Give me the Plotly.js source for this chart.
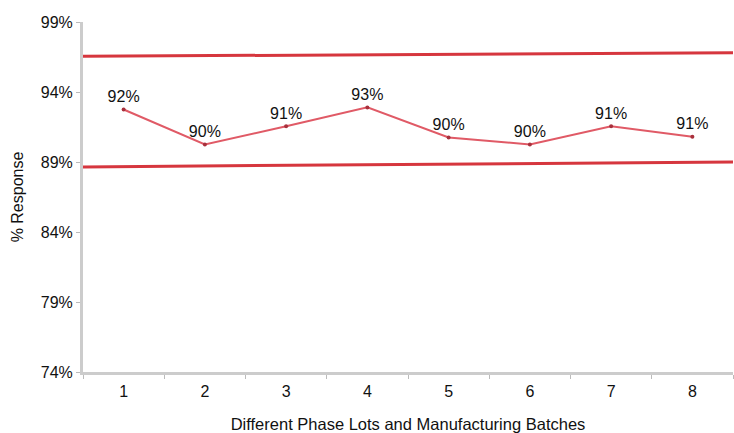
<!DOCTYPE html>
<html>
<head>
<meta charset="utf-8">
<script src="https://cdn.plot.ly/plotly-3.0.1.min.js"></script>
<style>html,body{margin:0;padding:0;background:#fff;}#chart{width:734px;height:433px;}</style>
</head>
<body>
<div id="chart"></div>
<script>
const batches = [1, 2, 3, 4, 5, 6, 7, 8];
const response = [92.75, 90.25, 91.55, 92.9, 90.75, 90.25, 91.55, 90.8];
const responseLabels = ['92%', '90%', '91%', '93%', '90%', '90%', '91%', '91%'];
const limitX = [0.5, 8.5];
const upperLimit = [96.55, 96.8];
const lowerLimit = [88.65, 89.0];
const yTicks = [74, 79, 84, 89, 94, 99];
const yTickLabels = ['74%', '79%', '84%', '89%', '94%', '99%'];

const font = 'Liberation Sans, Arial, Helvetica, sans-serif';
const traces = [
  {x: limitX, y: upperLimit, mode: 'lines', line: {color: '#d6363e', width: 3}, hoverinfo: 'skip'},
  {x: limitX, y: lowerLimit, mode: 'lines', line: {color: '#d6363e', width: 3}, hoverinfo: 'skip'},
  {x: batches, y: response, mode: 'lines+markers+text', text: responseLabels,
   textposition: 'top center', textfont: {family: font, size: 16, color: '#111'},
   line: {color: '#e05a66', width: 2}, marker: {color: '#a8303c', size: 4}, cliponaxis: false}
];
const layout = {
  width: 734, height: 433,
  margin: {l: 83, r: 1, t: 22, b: 61},
  paper_bgcolor: '#fff', plot_bgcolor: '#fff',
  showlegend: false,
  font: {family: font, size: 16, color: '#111'},
  xaxis: {
    range: [0.5, 8.5], tickvals: batches, ticktext: batches.map(String),
    showgrid: false, zeroline: false, showline: true, linecolor: '#cccccc', linewidth: 3,
    ticks: '', tickfont: {size: 16}, ticklabelstandoff: 3,
    minor: {tick0: 0.5, dtick: 1, ticks: 'outside', ticklen: 4, tickcolor: '#bbb', showgrid: false},
    title: {text: 'Different Phase Lots and Manufacturing Batches', font: {size: 16.5}, standoff: 20}
  },
  yaxis: {
    range: [74, 99], tickvals: yTicks, ticktext: yTickLabels,
    showgrid: false, zeroline: false, showline: true, linecolor: '#cccccc', linewidth: 3,
    ticks: 'outside', ticklen: 4, tickcolor: '#bbb', tickfont: {size: 16},
    title: {text: '% Response', font: {size: 16}, standoff: 14}
  }
};
Plotly.newPlot('chart', traces, layout, {staticPlot: true});
</script>
</body>
</html>
